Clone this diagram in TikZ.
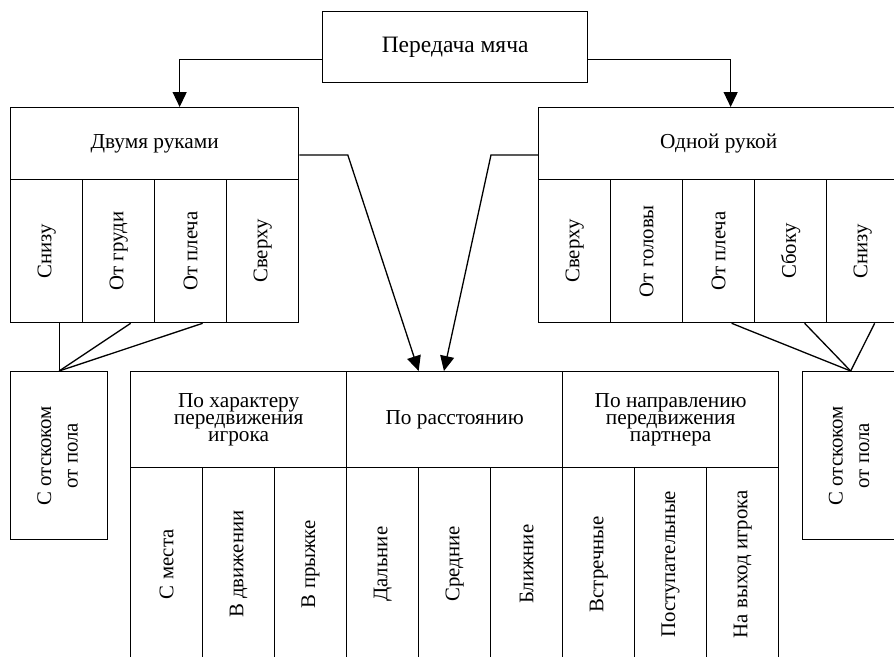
\documentclass[tikz,border=0pt]{standalone}
\usepackage{fontspec}
\setmainfont{Liberation Serif}
\usetikzlibrary{arrows.meta}
\newcommand\fstitle{\fontsize{23.5}{27}\selectfont}
\newcommand\fsnorm{\fontsize{21.3}{25}\selectfont}
\newcommand\fsvert{\fontsize{20.8}{24}\selectfont}
\newcommand\fstight{\fontsize{21.3}{16.7}\selectfont\lineskiplimit=-100pt\lineskip=0pt}
\newcommand\fsside{\fontsize{20.8}{26.5}\selectfont}
\begin{document}
\begin{tikzpicture}[x=1pt,y=-1pt,line width=1.3pt,
  box/.style={draw, inner sep=0pt, anchor=north west, align=center, font=\fsnorm},
  tcol/.style={box, minimum width=72pt, minimum height=143pt, font=\fsvert},
  bcol/.style={box, minimum width=72pt, minimum height=193pt, font=\fsvert},
  bhead/.style={box, minimum width=216pt, minimum height=96pt, font=\fstight},
  side/.style={box, minimum height=168pt, font=\fsside},
  arr/.style={-{Triangle[length=15pt,width=14pt]}},
  link/.style={line join=miter}]
\useasboundingbox (0,0) rectangle (894,656);
\clip (0,0) rectangle (894,656);
% top
\node[box, minimum width=265pt, minimum height=71pt, font=\fstitle] (top) at (322,11) {Передача мяча};
% left group
\node[box, minimum width=288pt, minimum height=72pt] (L) at (10,107) {Двумя руками};
\node[tcol] (l1) at (10,179) {\rotatebox{90}{Снизу}};
\node[tcol] (l2) at (82,179) {\rotatebox{90}{От груди}};
\node[tcol] (l3) at (154,179) {\rotatebox{90}{От плеча}};
\node[tcol] (l4) at (226,179) {\rotatebox{90}{Сверху}};
% right group
\node[box, minimum width=360pt, minimum height=72pt] (R) at (538,107) {Одной рукой};
\node[tcol] (r1) at (538,179) {\rotatebox{90}{Сверху}};
\node[tcol] (r2) at (610,179) {\rotatebox{90}{От головы}};
\node[tcol] (r3) at (682,179) {\rotatebox{90}{От плеча}};
\node[tcol] (r4) at (754,179) {\rotatebox{90}{Сбоку}};
\node[tcol] (r5) at (826,179) {\rotatebox{90}{Снизу}};
% side boxes
\node[side, minimum width=97pt] (S1) at (10,371) {\rotatebox{90}{\begin{tabular}{@{}c@{}}С отскоком\\от пола\end{tabular}}};
\node[side, minimum width=96pt] (S2) at (802,371) {\rotatebox{90}{\begin{tabular}{@{}c@{}}С отскоком\\от пола\end{tabular}}};
% bottom group
\node[bhead] (B1) at (130,371) {По характеру\\передвижения\\игрока};
\node[bhead] (B2) at (346,371) {По расстоянию};
\node[bhead] (B3) at (562,371) {По направлению\\передвижения\\партнера};
\node[bcol] (b1) at (130,467) {\rotatebox{90}{С места}};
\node[bcol] (b2) at (202,467) {\rotatebox{90}{В движении}};
\node[bcol] (b3) at (274,467) {\rotatebox{90}{В прыжке}};
\node[bcol] (b4) at (346,467) {\rotatebox{90}{Дальние}};
\node[bcol] (b5) at (418,467) {\rotatebox{90}{Средние}};
\node[bcol] (b6) at (490,467) {\rotatebox{90}{Ближние}};
\node[bcol] (b7) at (562,467) {\rotatebox{90}{Встречные}};
\node[bcol] (b8) at (634,467) {\rotatebox{90}{Поступательные}};
\node[bcol] (b9) at (706,467) {\rotatebox{90}{На выход игрока}};
% arrows
\draw[arr,link] ([yshift=-12.5pt]top.west) -| ([xshift=25pt]L.north);
\draw[arr,link] ([yshift=-12.5pt]top.east) -| ([xshift=12pt]R.north);
\draw[arr,link] ([yshift=-11.3pt]L.east) -- ++(48.5,0) -- ([xshift=-36pt]B2.north);
\draw[arr,link] ([yshift=-11.3pt]R.west) -- ++(-47,0) -- ([xshift=-10.7pt]B2.north);
% bounce lines
\draw (S1.north) -- (S1.north |- l1.south);
\draw (S1.north) -- ([xshift=12pt]l2.south);
\draw (S1.north) -- ([xshift=12pt]l3.south);
\draw (S2.north) -- ([xshift=13pt]r3.south);
\draw (S2.north) -- ([xshift=14pt]r4.south);
\draw (S2.north) -- ([xshift=12pt]r5.south);
\end{tikzpicture}
\end{document}
